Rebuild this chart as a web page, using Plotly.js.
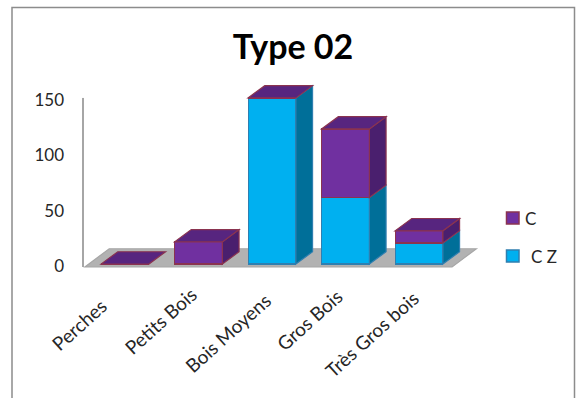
<!DOCTYPE html>
<html>
<head>
<meta charset="utf-8">
<script src="https://cdn.plot.ly/plotly-3.0.1.min.js"></script>
<style>html,body{margin:0;padding:0;background:#fff}#chart{width:576px;height:398px}</style>
</head>
<body>
<div id="chart"></div>
<script>
// Stacked columns by timber size class
const categories = ["Perches", "Petits Bois", "Bois Moyens", "Gros Bois", "Très Gros bois"];
const valuesCZ = [0, 0, 150, 60, 19];
const valuesC = [0, 20, 0, 62, 11];
const yTicks = [0, 50, 100, 150];

const W = 576, H = 398;
const FONT = "Lato, Carlito, sans-serif";
const BLUE = {front: "#00B0F0", side: "#006F99", edge: "#2F7FB0"};
const PURPLE = {front: "#7030A0", side: "#4A1F6E", top: "#57257F", edge: "#8A3350"};

const barWidth = 0.65, depthX = 0.227, depthY = 11.1;
const floorX = [-0.545, 4.45], floorDepthX = 0.33, floorY = -2.7, floorDepthY = 16.5;

function poly(points, fill, edge, layer) {
  const path = points.map((p, i) => (i ? "L" : "M") + p[0] + "," + p[1]).join(" ") + " Z";
  return {type: "path", xref: "x", yref: "y", path, fillcolor: fill,
          line: {color: edge, width: 1.2}, layer: layer || "above"};
}

const shapes = [];
// Floor under the columns
shapes.push(poly([[floorX[0], floorY], [floorX[1], floorY],
                  [floorX[1] + floorDepthX, floorY + floorDepthY], [floorX[0] + floorDepthX, floorY + floorDepthY]],
                 "#B2B2B2", "#A6A6A6", "below"));
// Value axis line
shapes.push({type: "line", xref: "x", yref: "y", x0: -0.571, x1: -0.571, y0: floorY, y1: yTicks[3],
             line: {color: "#A6A6A6", width: 2}, layer: "below"});

// Side and top faces follow the stacked values
categories.forEach((_, i) => {
  const r = i + barWidth / 2, l = i - barWidth / 2;
  const cz = valuesCZ[i], total = cz + valuesC[i];
  if (cz > 0) shapes.push(poly([[r, 0], [r + depthX, depthY], [r + depthX, cz + depthY], [r, cz]], BLUE.side, BLUE.edge));
  if (total > cz) shapes.push(poly([[r, cz], [r + depthX, cz + depthY], [r + depthX, total + depthY], [r, total]], PURPLE.side, PURPLE.edge));
  shapes.push(poly([[l, total], [r, total], [r + depthX, total + depthY], [l + depthX, total + depthY]], PURPLE.top, PURPLE.edge));
});

// Key, set out as two square swatches with text beside them
const keyItems = [{name: "C", color: PURPLE.front, edge: PURPLE.edge, px: 218, textPx: 523},
                  {name: "C Z", color: BLUE.front, edge: BLUE.edge, px: 256, textPx: 529}];
const annotations = [];
keyItems.forEach(k => {
  shapes.push({type: "rect", xref: "paper", yref: "paper",
               x0: 506.5 / W, x1: 519 / W, y0: 1 - (k.px + 6) / H, y1: 1 - (k.px - 6) / H,
               fillcolor: k.color, line: {color: k.edge, width: 1.5}});
  annotations.push({xref: "paper", yref: "paper", x: k.textPx / W, y: 1 - k.px / H, text: k.name,
                    showarrow: false, xanchor: "left", yanchor: "middle",
                    font: {family: FONT, size: 17, color: "#262626"}});
});

// Slanted category labels, centred on their own points
const labelShift = [[-46, 60], [-38, 56], [-44, 68], [-36, 55], [-48, 70]];
categories.forEach((c, i) => {
  annotations.push({xref: "x", yref: "y", x: i, y: 0, text: c, showarrow: false, textangle: -42,
                    xanchor: "center", yanchor: "middle",
                    xshift: labelShift[i][0], yshift: -labelShift[i][1],
                    font: {family: FONT, size: 19, color: "#262626"}});
});

// Chart frame
shapes.push({type: "path", xref: "paper", yref: "paper",
             path: `M${12 / W},0 L${12 / W},${1 - 7.5 / H} L${574.5 / W},${1 - 7.5 / H} L${574.5 / W},0`,
             line: {color: "#8C8C8C", width: 1.5}});

const traces = [
  {type: "bar", name: "C Z", x: categories, y: valuesCZ, width: barWidth,
   marker: {color: BLUE.front, line: {color: BLUE.edge, width: 1.2}}},
  {type: "bar", name: "C", x: categories, y: valuesC, width: barWidth,
   marker: {color: PURPLE.front, line: {color: PURPLE.edge, width: 1.2}}}
];

const layout = {
  width: W, height: H,
  margin: {l: 0, r: 0, t: 0, b: 0},
  paper_bgcolor: "#fff", plot_bgcolor: "rgba(0,0,0,0)",
  barmode: "stack", showlegend: false,
  title: {text: "<b>Type 02</b>", x: 293 / W, xanchor: "center", y: 1 - 47 / H, yanchor: "middle",
          font: {family: FONT, size: 34, color: "#000"}},
  xaxis: {type: "category", domain: [70 / W, 490 / W], range: [-0.748, 4.966],
          showgrid: false, zeroline: false, showline: false, showticklabels: false, ticks: ""},
  yaxis: {domain: [(H - 272) / H, (H - 80) / H], range: [-7.2, 166.2], tickvals: yTicks,
          showgrid: false, zeroline: false, showline: false, ticks: "", ticklabelstandoff: 5, ticklabelshift: 2,
          tickfont: {family: FONT, size: 17, color: "#262626"}},
  shapes, annotations
};

Plotly.newPlot("chart", traces, layout, {displayModeBar: false});
</script>
</body>
</html>
